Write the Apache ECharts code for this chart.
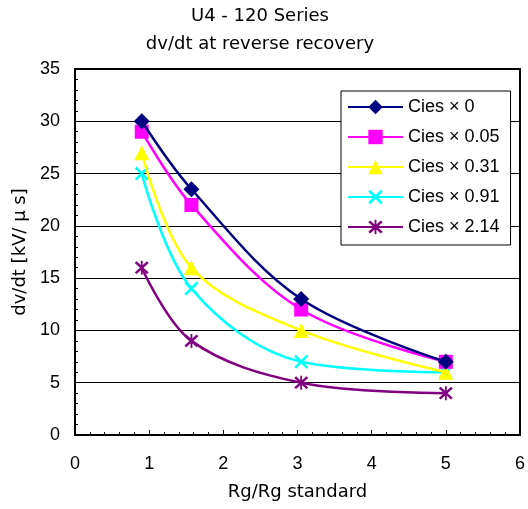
<!DOCTYPE html>
<html><head><meta charset="utf-8">
<script src="https://cdn.jsdelivr.net/npm/echarts@6/dist/echarts.min.js"></script>
<style>html,body{margin:0;padding:0;background:#fff}#c{width:528px;height:509px}</style>
</head><body><div id="c"></div>
<script>
const xValues = [0.9, 1.57, 3.05, 5];
const seriesNames = ['Cies × 0', 'Cies × 0.05', 'Cies × 0.31', 'Cies × 0.91', 'Cies × 2.14'];
const cies0 = [30, 23.5, 13, 7];
const cies005 = [29, 22, 12, 7];
const cies031 = [27, 16, 10, 6];
const cies091 = [25, 14, 7, 6];
const cies214 = [16, 9, 5, 4];
const allValues = [cies0, cies005, cies031, cies091, cies214];
const colors = ['#000080', '#FF00FF', '#FFFF00', '#00FFFF', '#800080'];
const crossPath = 'path://M0,1.3 L1.3,0 L10,8.7 L8.7,10 Z M8.7,0 L10,1.3 L1.3,10 L0,8.7 Z';
const starPath = 'path://M0,1.3 L1.3,0 L10,8.7 L8.7,10 Z M8.7,0 L10,1.3 L1.3,10 L0,8.7 Z M4.35,-0.5 L5.65,-0.5 L5.65,10.5 L4.35,10.5 Z';
const symbols = ['diamond', 'rect', 'triangle', crossPath, starPath];
const symbolSizes = [16, 14, 15, 14, 14];
const titleFont = "'DejaVu Sans', sans-serif";
const numFont = "'Liberation Sans', Arial, sans-serif";

const chart = echarts.init(document.getElementById('c'), null, {renderer: 'canvas'});
chart.setOption({
  animation: false,
  backgroundColor: '#fff',
  title: {
    text: 'U4 - 120 Series\ndv/dt at reverse recovery',
    left: 255, top: -3, textAlign: 'center',
    textStyle: {fontFamily: titleFont, fontSize: 18, fontWeight: 'normal', color: '#000', lineHeight: 28}
  },
  grid: {left: 75, right: 6, top: 69, bottom: 74, show: true, borderColor: '#000', borderWidth: 2, backgroundColor: 'transparent'},
  legend: {
    orient: 'vertical', left: 341, top: 91,
    backgroundColor: '#fff', borderColor: '#000', borderWidth: 1,
    padding: [7, 11, 9, 6],
    itemWidth: 55, itemHeight: 18, itemGap: 12,
    textStyle: {fontFamily: numFont, fontSize: 18, color: '#000'},
    data: seriesNames
  },
  xAxis: {
    type: 'value', min: 0, max: 6, interval: 1,
    name: 'Rg/Rg standard', nameLocation: 'middle', nameGap: 48,
    nameTextStyle: {fontFamily: titleFont, fontSize: 18, color: '#000'},
    axisLine: {show: true, onZero: false, lineStyle: {color: '#000', width: 2}},
    axisTick: {show: true, inside: true, length: 5, lineStyle: {color: '#000'}},
    minorTick: {show: true, splitNumber: 5, length: 3, lineStyle: {color: '#000'}},
    axisLabel: {fontFamily: numFont, fontSize: 18, color: '#000', margin: 20},
    splitLine: {show: false}
  },
  yAxis: {
    type: 'value', min: 0, max: 35, interval: 5,
    name: 'dv/dt [kV/ μ s]', nameLocation: 'middle', nameGap: 45,
    nameTextStyle: {fontFamily: titleFont, fontSize: 18, color: '#000'},
    axisLine: {show: true, onZero: false, lineStyle: {color: '#000', width: 2}},
    axisTick: {show: true, inside: true, length: 5, lineStyle: {color: '#000'}},
    minorTick: {show: true, splitNumber: 5, length: 3, lineStyle: {color: '#000'}},
    axisLabel: {fontFamily: numFont, fontSize: 18, color: '#000', margin: 15},
    splitLine: {show: true, lineStyle: {color: '#000', width: 1}}
  },
  series: seriesNames.map((name, i) => ({
    name: name,
    type: 'line',
    smooth: 0.35,
    data: xValues.map((x, j) => [x, allValues[i][j]]),
    symbol: symbols[i],
    symbolSize: symbolSizes[i],
    showAllSymbol: true,
    lineStyle: {color: colors[i], width: 2.5},
    itemStyle: {color: colors[i], borderWidth: 0},
    z: 10 - i
  }))
});
</script></body></html>
